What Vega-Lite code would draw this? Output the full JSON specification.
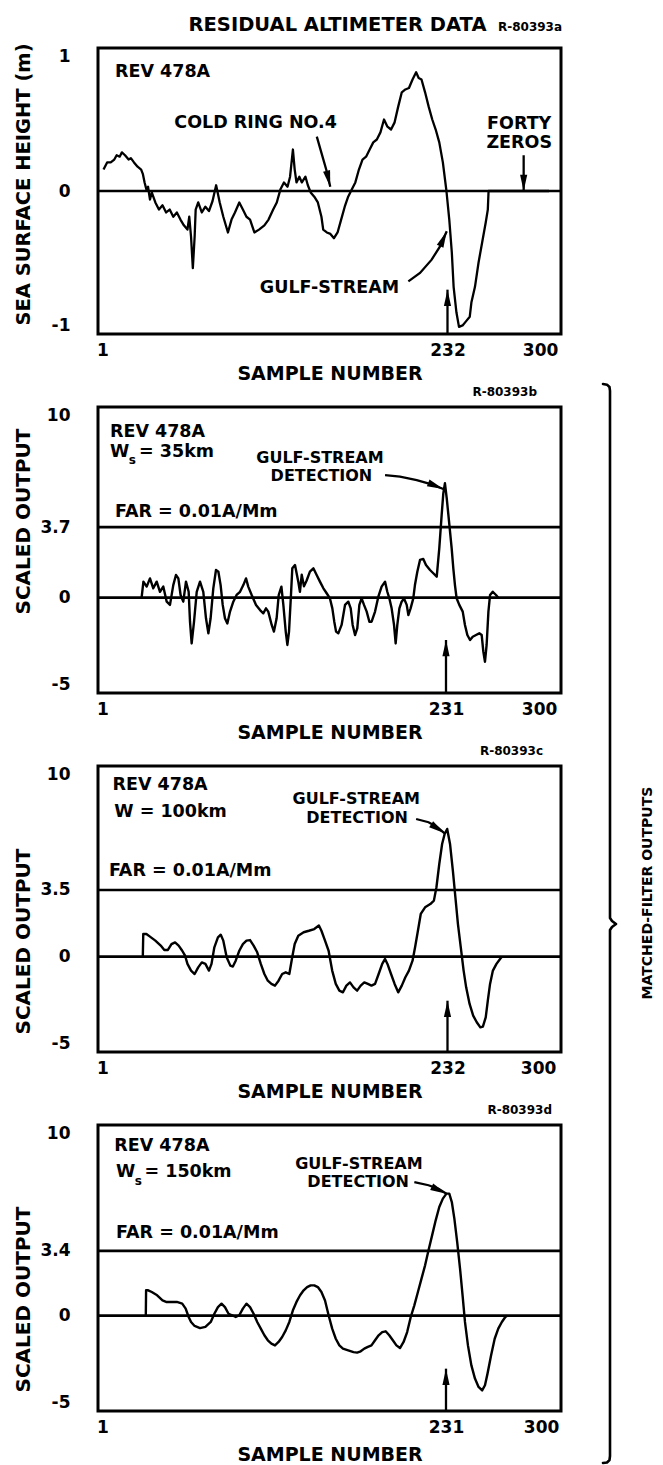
{
  "$schema": "https://vega.github.io/schema/vega-lite/v6.json",
  "background": "white",
  "padding": {"left": 11, "top": 13, "right": 0, "bottom": 0},
  "datasets": {
    "p1": [
      {"s":1.7,"v":0.15},{"s":4.1,"v":0.2},{"s":6.5,"v":0.2},{"s":8.9,"v":0.22},{"s":10.5,"v":0.25},{"s":12.5,"v":0.24},{"s":14,"v":0.27},{"s":16.1,"v":0.25},{"s":18.5,"v":0.22},{"s":20,"v":0.23},{"s":22.1,"v":0.2},{"s":24.5,"v":0.17},{"s":26.9,"v":0.15},{"s":28,"v":0.12},{"s":29.2,"v":0.06},{"s":30.4,"v":0.01},{"s":31.5,"v":0.03},{"s":32.8,"v":-0.06},{"s":34,"v":-0.01},{"s":36.4,"v":-0.08},{"s":38.8,"v":-0.13},{"s":41.2,"v":-0.1},{"s":43.6,"v":-0.15},{"s":46,"v":-0.13},{"s":48.4,"v":-0.18},{"s":50.8,"v":-0.15},{"s":53.2,"v":-0.2},{"s":55.5,"v":-0.24},{"s":57.9,"v":-0.27},{"s":59.1,"v":-0.18},{"s":60.3,"v":-0.32},{"s":61.5,"v":-0.54},{"s":62.7,"v":-0.32},{"s":63.4,"v":-0.13},{"s":65.1,"v":-0.08},{"s":67.5,"v":-0.15},{"s":69.9,"v":-0.11},{"s":72.3,"v":-0.14},{"s":74.7,"v":-0.07},{"s":77.1,"v":0.04},{"s":79.5,"v":-0.08},{"s":81.9,"v":-0.18},{"s":85,"v":-0.29},{"s":87.4,"v":-0.2},{"s":89.7,"v":-0.15},{"s":92.6,"v":-0.08},{"s":95,"v":-0.13},{"s":97.4,"v":-0.18},{"s":99.8,"v":-0.2},{"s":102.7,"v":-0.29},{"s":105.8,"v":-0.27},{"s":109.4,"v":-0.24},{"s":112.2,"v":-0.2},{"s":115.3,"v":-0.13},{"s":117.7,"v":-0.08},{"s":120.1,"v":0.01},{"s":122.5,"v":0.06},{"s":124.9,"v":0.03},{"s":126.6,"v":0.1},{"s":128.5,"v":0.29},{"s":129.7,"v":0.15},{"s":130.9,"v":0.06},{"s":132.8,"v":0.1},{"s":134.5,"v":0.06},{"s":136.9,"v":0.1},{"s":138.5,"v":0.04},{"s":140.4,"v":-0.01},{"s":142.8,"v":-0.04},{"s":145.2,"v":-0.08},{"s":147.6,"v":-0.18},{"s":148.8,"v":-0.27},{"s":151.2,"v":-0.29},{"s":153.6,"v":-0.3},{"s":156,"v":-0.33},{"s":158.4,"v":-0.29},{"s":160.8,"v":-0.2},{"s":163.2,"v":-0.11},{"s":165.5,"v":-0.04},{"s":167.9,"v":0.01},{"s":170.3,"v":0.06},{"s":172.7,"v":0.15},{"s":175.1,"v":0.22},{"s":177.5,"v":0.24},{"s":179.9,"v":0.29},{"s":182.3,"v":0.34},{"s":184.7,"v":0.36},{"s":187.1,"v":0.41},{"s":189.5,"v":0.5},{"s":191.8,"v":0.45},{"s":194.2,"v":0.43},{"s":196.6,"v":0.48},{"s":199,"v":0.59},{"s":201.4,"v":0.69},{"s":203.8,"v":0.71},{"s":206.2,"v":0.72},{"s":208.6,"v":0.78},{"s":211,"v":0.83},{"s":212.7,"v":0.79},{"s":214.6,"v":0.78},{"s":217,"v":0.69},{"s":219.4,"v":0.59},{"s":221.8,"v":0.5},{"s":224.1,"v":0.43},{"s":226.5,"v":0.34},{"s":228.9,"v":0.2},{"s":231.3,"v":0},{"s":233.2,"v":-0.2},{"s":234.9,"v":-0.43},{"s":236.1,"v":-0.67},{"s":238,"v":-0.85},{"s":239.7,"v":-0.95},{"s":242.1,"v":-0.94},{"s":244.5,"v":-0.91},{"s":246.9,"v":-0.88},{"s":248,"v":-0.78},{"s":250.4,"v":-0.67},{"s":252.8,"v":-0.5},{"s":255.2,"v":-0.36},{"s":257.6,"v":-0.22},{"s":259,"v":-0.13},{"s":259.5,"v":0},{"s":262,"v":0},{"s":300,"v":0}
    ],
    "p2": [
      {"s":27.2,"v":0},{"s":28.4,"v":0.84},{"s":30.6,"v":0.58},{"s":32.8,"v":1.01},{"s":35,"v":0.49},{"s":37.3,"v":0.84},{"s":39.5,"v":0.31},{"s":41.7,"v":0.58},{"s":44,"v":-0.21},{"s":46.2,"v":-0.38},{"s":48.4,"v":0.66},{"s":50.2,"v":1.19},{"s":51.8,"v":1.01},{"s":53.3,"v":0.14},{"s":55.1,"v":-0.21},{"s":56.9,"v":0.84},{"s":58.7,"v":0.31},{"s":59.6,"v":-1.26},{"s":60.7,"v":-2.4},{"s":62.3,"v":-1.26},{"s":64.1,"v":0.31},{"s":66.3,"v":0.84},{"s":68.5,"v":0.31},{"s":70.3,"v":-1.08},{"s":71.9,"v":-1.87},{"s":73.4,"v":-1.08},{"s":75.2,"v":0.49},{"s":77,"v":1.45},{"s":78.6,"v":1.36},{"s":80.1,"v":0.66},{"s":81.5,"v":-0.38},{"s":83,"v":-1.08},{"s":84.6,"v":-1.35},{"s":86.4,"v":-0.73},{"s":88.6,"v":-0.21},{"s":90.8,"v":0.14},{"s":93.1,"v":0.31},{"s":95.3,"v":0.66},{"s":97.1,"v":1.01},{"s":98.6,"v":0.58},{"s":100.9,"v":0.14},{"s":103.8,"v":-0.38},{"s":106.5,"v":-0.65},{"s":108.7,"v":-0.82},{"s":110.5,"v":-0.56},{"s":112,"v":-0.73},{"s":114.3,"v":-1.43},{"s":115.8,"v":-1.78},{"s":117.6,"v":-1.08},{"s":119,"v":0.14},{"s":120.8,"v":0.58},{"s":122.1,"v":-0.38},{"s":123.7,"v":-1.78},{"s":124.8,"v":-2.48},{"s":125.9,"v":-1.78},{"s":127.2,"v":0.14},{"s":128.1,"v":1.54},{"s":129.9,"v":1.71},{"s":132.1,"v":0.84},{"s":133.2,"v":0.31},{"s":134.4,"v":1.2},{"s":135.9,"v":0.6},{"s":137.7,"v":0.9},{"s":139.9,"v":1.37},{"s":142.2,"v":1.54},{"s":144.4,"v":1.19},{"s":146.6,"v":0.84},{"s":148.9,"v":0.49},{"s":151.1,"v":0.23},{"s":153.3,"v":-0.04},{"s":154.9,"v":-0.56},{"s":156.2,"v":-1.26},{"s":157.4,"v":-1.78},{"s":158.9,"v":-1.87},{"s":161.1,"v":-1.43},{"s":163.4,"v":-0.38},{"s":165.6,"v":-0.21},{"s":167.2,"v":-0.56},{"s":168.5,"v":-1.43},{"s":170.1,"v":-1.96},{"s":171.6,"v":-1.61},{"s":173,"v":-0.38},{"s":174.5,"v":-0.04},{"s":176.1,"v":-0.38},{"s":177.9,"v":-0.73},{"s":179.7,"v":-1.26},{"s":181.2,"v":-1.26},{"s":183.5,"v":-0.73},{"s":185.7,"v":0.05},{"s":187.9,"v":0.58},{"s":190.2,"v":0.84},{"s":191.7,"v":0.31},{"s":193.1,"v":-0.04},{"s":194.6,"v":-0.56},{"s":196.2,"v":-1.43},{"s":197.3,"v":-2.4},{"s":198.4,"v":-1.43},{"s":199.8,"v":-0.56},{"s":201.3,"v":-0.21},{"s":202.9,"v":-0.04},{"s":204.7,"v":-0.38},{"s":205.8,"v":-0.91},{"s":207.3,"v":-0.56},{"s":209.1,"v":-0.04},{"s":210.2,"v":0.66},{"s":211.8,"v":1.36},{"s":213.6,"v":1.98},{"s":215.8,"v":2.03},{"s":217.6,"v":1.71},{"s":220.3,"v":1.45},{"s":222.5,"v":1.28},{"s":224.8,"v":1.1},{"s":226.5,"v":2.59},{"s":228.1,"v":4.34},{"s":229.2,"v":5.47},{"s":230.3,"v":6.0},{"s":231.5,"v":5.21},{"s":232.6,"v":4.34},{"s":233.7,"v":3.46},{"s":234.8,"v":2.59},{"s":235.9,"v":1.54},{"s":237,"v":0.66},{"s":238.1,"v":-0.03},{"s":239.9,"v":-0.38},{"s":242.2,"v":-0.73},{"s":243.7,"v":-1.43},{"s":245.3,"v":-1.96},{"s":247.1,"v":-2.22},{"s":248.9,"v":-2.05},{"s":251.1,"v":-1.96},{"s":253.3,"v":-1.87},{"s":254.9,"v":-1.96},{"s":256,"v":-2.83},{"s":257.1,"v":-3.36},{"s":258.2,"v":-2.48},{"s":259.4,"v":-0.73},{"s":260.5,"v":0.14},{"s":262.3,"v":0.31},{"s":264.5,"v":0.14},{"s":266,"v":0}
    ],
    "p3": [
      {"s":28,"v":0},{"s":28.3,"v":1.19},{"s":30.4,"v":1.19},{"s":32.8,"v":1.05},{"s":36.4,"v":0.84},{"s":40,"v":0.58},{"s":42.4,"v":0.35},{"s":44.8,"v":0.35},{"s":47.2,"v":0.66},{"s":49.6,"v":0.75},{"s":52,"v":0.58},{"s":54.4,"v":0.31},{"s":56.3,"v":0.05},{"s":57.9,"v":-0.38},{"s":60.3,"v":-0.73},{"s":62.7,"v":-0.91},{"s":65.1,"v":-0.56},{"s":67.5,"v":-0.3},{"s":69.9,"v":-0.38},{"s":72.3,"v":-0.73},{"s":74,"v":-0.38},{"s":75.9,"v":0.49},{"s":78.3,"v":1.01},{"s":80.2,"v":1.15},{"s":81.9,"v":0.84},{"s":84.2,"v":-0.04},{"s":86.6,"v":-0.47},{"s":88.3,"v":-0.52},{"s":90.2,"v":-0.21},{"s":92.6,"v":0.31},{"s":95,"v":0.66},{"s":97.4,"v":0.84},{"s":99.8,"v":0.87},{"s":102.2,"v":0.58},{"s":104.6,"v":0.23},{"s":107,"v":-0.38},{"s":109.4,"v":-0.91},{"s":111.7,"v":-1.26},{"s":114.1,"v":-1.43},{"s":116.5,"v":-1.52},{"s":118.9,"v":-1.26},{"s":121.3,"v":-0.91},{"s":123.7,"v":-0.82},{"s":126.1,"v":-0.91},{"s":128,"v":-0.04},{"s":129.7,"v":0.66},{"s":132.1,"v":1.1},{"s":135.7,"v":1.28},{"s":139.2,"v":1.36},{"s":142.8,"v":1.45},{"s":145.9,"v":1.63},{"s":147.6,"v":1.36},{"s":150,"v":0.84},{"s":152.4,"v":0.31},{"s":154.8,"v":-0.73},{"s":157.2,"v":-1.43},{"s":159.6,"v":-1.78},{"s":162,"v":-1.87},{"s":164.3,"v":-1.52},{"s":166.7,"v":-1.35},{"s":169.1,"v":-1.61},{"s":171.5,"v":-1.78},{"s":173.9,"v":-1.52},{"s":176.3,"v":-1.35},{"s":178.7,"v":-1.43},{"s":181.1,"v":-1.52},{"s":183.5,"v":-1.43},{"s":185.9,"v":-0.91},{"s":188.3,"v":-0.38},{"s":190.2,"v":-0.12},{"s":191.8,"v":-0.38},{"s":194.2,"v":-0.91},{"s":196.6,"v":-1.43},{"s":199,"v":-1.87},{"s":201.4,"v":-1.52},{"s":203.8,"v":-1.08},{"s":206.2,"v":-0.73},{"s":208.6,"v":-0.21},{"s":210.3,"v":0.49},{"s":212.2,"v":1.36},{"s":214.1,"v":2.24},{"s":217,"v":2.59},{"s":220.5,"v":2.76},{"s":222.9,"v":2.94},{"s":224.6,"v":3.64},{"s":226.5,"v":4.86},{"s":228.4,"v":5.91},{"s":230.1,"v":6.43},{"s":231.8,"v":6.7},{"s":233.7,"v":5.91},{"s":235.6,"v":4.51},{"s":237.3,"v":3.11},{"s":239,"v":1.71},{"s":240.9,"v":0.49},{"s":242.8,"v":-0.73},{"s":244.5,"v":-1.61},{"s":246.8,"v":-2.48},{"s":249.2,"v":-3.09},{"s":251.6,"v":-3.44},{"s":254,"v":-3.71},{"s":255.7,"v":-3.67},{"s":257.6,"v":-3.18},{"s":259,"v":-2.31},{"s":260.5,"v":-1.43},{"s":262.4,"v":-0.73},{"s":264.8,"v":-0.38},{"s":267.2,"v":-0.12},{"s":268.4,"v":0}
    ],
    "p4": [
      {"s":30,"v":0},{"s":30.2,"v":1.33},{"s":31.6,"v":1.33},{"s":34,"v":1.24},{"s":37.6,"v":1.07},{"s":41.2,"v":0.8},{"s":43.6,"v":0.72},{"s":47.2,"v":0.72},{"s":50.8,"v":0.72},{"s":54.4,"v":0.63},{"s":56.7,"v":0.37},{"s":58.7,"v":-0.07},{"s":60.3,"v":-0.33},{"s":62.7,"v":-0.54},{"s":66.3,"v":-0.65},{"s":69.9,"v":-0.59},{"s":73.5,"v":-0.33},{"s":75.9,"v":0.1},{"s":78.3,"v":0.45},{"s":80.7,"v":0.63},{"s":83,"v":0.45},{"s":85.4,"v":0.1},{"s":87.8,"v":0.02},{"s":90.2,"v":-0.07},{"s":92.6,"v":0.02},{"s":95,"v":0.37},{"s":97.4,"v":0.63},{"s":99.8,"v":0.45},{"s":102.2,"v":0.1},{"s":104.6,"v":-0.33},{"s":107,"v":-0.68},{"s":109.4,"v":-1.03},{"s":111.7,"v":-1.29},{"s":114.1,"v":-1.47},{"s":116.5,"v":-1.56},{"s":118.9,"v":-1.38},{"s":121.3,"v":-1.12},{"s":123.7,"v":-0.77},{"s":126.1,"v":-0.33},{"s":128.5,"v":0.28},{"s":130.9,"v":0.72},{"s":133.3,"v":1.07},{"s":135.7,"v":1.33},{"s":138,"v":1.5},{"s":140.4,"v":1.59},{"s":142.8,"v":1.59},{"s":145.2,"v":1.5},{"s":147.6,"v":1.24},{"s":150,"v":0.8},{"s":152.4,"v":0.02},{"s":154.8,"v":-0.68},{"s":157.2,"v":-1.21},{"s":159.6,"v":-1.56},{"s":162,"v":-1.73},{"s":165.5,"v":-1.82},{"s":169.1,"v":-1.91},{"s":171.5,"v":-1.94},{"s":173.9,"v":-1.87},{"s":176.3,"v":-1.73},{"s":178.7,"v":-1.64},{"s":181.1,"v":-1.56},{"s":183.5,"v":-1.29},{"s":185.9,"v":-1.03},{"s":188.3,"v":-0.86},{"s":190.6,"v":-0.82},{"s":193,"v":-1.03},{"s":195.4,"v":-1.29},{"s":197.8,"v":-1.56},{"s":200.2,"v":-1.7},{"s":202.6,"v":-1.38},{"s":205,"v":-0.86},{"s":207.4,"v":-0.07},{"s":209.8,"v":0.54},{"s":212.2,"v":1.24},{"s":214.6,"v":1.94},{"s":217,"v":2.64},{"s":219.3,"v":3.43},{"s":221.7,"v":4.21},{"s":224.1,"v":5.0},{"s":226.5,"v":5.7},{"s":228.9,"v":6.14},{"s":231.3,"v":6.4},{"s":233.2,"v":6.4},{"s":234.9,"v":5.96},{"s":236.6,"v":5.09},{"s":238.5,"v":3.86},{"s":240.4,"v":2.47},{"s":242.1,"v":1.07},{"s":243.7,"v":-0.33},{"s":245.7,"v":-1.56},{"s":248,"v":-2.61},{"s":250.4,"v":-3.3},{"s":252.8,"v":-3.74},{"s":255.2,"v":-3.92},{"s":257.1,"v":-3.65},{"s":258.8,"v":-3.04},{"s":261.2,"v":-2.08},{"s":263.6,"v":-1.21},{"s":266,"v":-0.68},{"s":268.4,"v":-0.33},{"s":270.7,"v":-0.07},{"s":271.9,"v":0}
    ],
    "brace": [
      {"k":0,"bx":0.275,"by":0.2465},{"k":1,"bx":0.325,"by":0.247},{"k":2,"bx":0.356,"by":0.2487},{"k":3,"bx":0.3625,"by":0.2516},
      {"k":4,"bx":0.3625,"by":0.6383},{"k":5,"bx":0.3875,"by":0.6405},{"k":6,"bx":0.4375,"by":0.6427},{"k":7,"bx":0.3875,"by":0.6449},{"k":8,"bx":0.3625,"by":0.6471},
      {"k":9,"bx":0.3625,"by":1.033},{"k":10,"bx":0.356,"by":1.036},{"k":11,"bx":0.325,"by":1.0378},{"k":12,"bx":0.275,"by":1.0381}
    ]
  },
  "hconcat": [
    {
      "vconcat": [
        {
          "width": 463, "height": 286,
          "title": {"text": "RESIDUAL ALTIMETER DATA", "fontSize": 19.5, "anchor": "middle", "dx": 8, "offset": -29.5, "baseline": "alphabetic"},
          "layer": [
            {"data": {"values": [{"v": 0}]}, "mark": {"type": "rule", "strokeWidth": 2.6},
             "encoding": {"y": {"field": "v", "type": "quantitative", "scale": {"domain": [-1, 1], "nice": false, "zero": false}}}},
            {"data": {"name": "p1"}, "mark": {"type": "line", "strokeWidth": 2.3, "strokeJoin": "round"},
             "encoding": {
               "x": {"field": "s", "type": "quantitative", "scale": {"domain": [-2, 308], "nice": false, "zero": false},
                     "axis": {"values": [1, 232, 300], "title": "SAMPLE NUMBER", "labelOffset": {"condition": {"test": "datum.value === 300", "value": -9}, "value": 0}}},
               "y": {"field": "v", "type": "quantitative", "scale": {"domain": [-1, 1], "nice": false, "zero": false},
                     "axis": {"values": [-1, 0, 1], "title": "SEA SURFACE HEIGHT (m)", "titleFontSize": 19.5, "titleY": 136}}}},
            {"data": {"values": [{"label": "REV 478A", "s": 9.4, "v": 0.83}]},
             "mark": {"type": "text", "align": "left", "baseline": "middle", "fontSize": 17.5},
             "encoding": {"x": {"field": "s", "type": "quantitative", "scale": {"domain": [-2, 308], "nice": false, "zero": false}},
                          "y": {"field": "v", "type": "quantitative", "scale": {"domain": [-1, 1], "nice": false, "zero": false}},
                          "text": {"field": "label"}}},
            {"data": {"values": [{"label": "COLD RING NO.4", "s": 103.5, "v": 0.476}, {"label": "FORTY", "s": 280, "v": 0.472}, {"label": "ZEROS", "s": 280, "v": 0.339}, {"label": "GULF-STREAM", "s": 153, "v": -0.675}]},
             "mark": {"type": "text", "align": "center", "baseline": "middle", "fontSize": 17.5},
             "encoding": {"x": {"field": "s", "type": "quantitative", "scale": {"domain": [-2, 308], "nice": false, "zero": false}},
                          "y": {"field": "v", "type": "quantitative", "scale": {"domain": [-1, 1], "nice": false, "zero": false}},
                          "text": {"field": "label"}}},
            {"data": {"values": [{"label": "R-80393a", "s": 265.8, "v": 1.147}]},
             "mark": {"type": "text", "align": "left", "baseline": "middle", "fontSize": 12},
             "encoding": {"x": {"field": "s", "type": "quantitative", "scale": {"domain": [-2, 308], "nice": false, "zero": false}},
                          "y": {"field": "v", "type": "quantitative", "scale": {"domain": [-1, 1], "nice": false, "zero": false}},
                          "text": {"field": "label"}}},
            {"data": {"values": [
                {"id": "ring", "k": 0, "s": 144.5, "v": 0.38}, {"id": "ring", "k": 1, "s": 147.8, "v": 0.26}, {"id": "ring", "k": 2, "s": 150.8, "v": 0.15}, {"id": "ring", "k": 3, "s": 153.5, "v": 0.03},
                {"id": "zeros", "k": 0, "s": 283, "v": 0.25}, {"id": "zeros", "k": 1, "s": 283, "v": 0.0},
                {"id": "gulf", "k": 0, "s": 205.8, "v": -0.632}, {"id": "gulf", "k": 1, "s": 213.6, "v": -0.573}, {"id": "gulf", "k": 2, "s": 221.4, "v": -0.48}, {"id": "gulf", "k": 3, "s": 227, "v": -0.387}, {"id": "gulf", "k": 4, "s": 231.5, "v": -0.282},
                {"id": "mark", "k": 0, "s": 232, "v": -1}, {"id": "mark", "k": 1, "s": 232, "v": -0.69}]},
             "mark": {"type": "line", "strokeWidth": 2.3},
             "encoding": {"x": {"field": "s", "type": "quantitative", "scale": {"domain": [-2, 308], "nice": false, "zero": false}},
                          "y": {"field": "v", "type": "quantitative", "scale": {"domain": [-1, 1], "nice": false, "zero": false}},
                          "detail": {"field": "id"}, "order": {"field": "k", "type": "quantitative"}}},
            {"data": {"values": [{"s": 153.5, "v": 0.03}]},
             "mark": {"type": "point", "shape": "M0,0L0.55,2.5L-0.55,2.5Z", "filled": true, "size": 170, "angle": 167, "opacity": 1, "color": "black"},
             "encoding": {"x": {"field": "s", "type": "quantitative", "scale": {"domain": [-2, 308], "nice": false, "zero": false}},
                          "y": {"field": "v", "type": "quantitative", "scale": {"domain": [-1, 1], "nice": false, "zero": false}}}},
            {"data": {"values": [{"s": 283, "v": 0.0}]},
             "mark": {"type": "point", "shape": "M0,0L0.55,2.5L-0.55,2.5Z", "filled": true, "size": 170, "angle": 180, "opacity": 1, "color": "black"},
             "encoding": {"x": {"field": "s", "type": "quantitative", "scale": {"domain": [-2, 308], "nice": false, "zero": false}},
                          "y": {"field": "v", "type": "quantitative", "scale": {"domain": [-1, 1], "nice": false, "zero": false}}}},
            {"data": {"values": [{"s": 231.5, "v": -0.282}]},
             "mark": {"type": "point", "shape": "M0,0L0.55,2.5L-0.55,2.5Z", "filled": true, "size": 170, "angle": 24, "opacity": 1, "color": "black"},
             "encoding": {"x": {"field": "s", "type": "quantitative", "scale": {"domain": [-2, 308], "nice": false, "zero": false}},
                          "y": {"field": "v", "type": "quantitative", "scale": {"domain": [-1, 1], "nice": false, "zero": false}}}},
            {"data": {"values": [{"s": 232, "v": -0.69}]},
             "mark": {"type": "point", "shape": "M0,0L0.55,2.5L-0.55,2.5Z", "filled": true, "size": 170, "angle": 0, "opacity": 1, "color": "black"},
             "encoding": {"x": {"field": "s", "type": "quantitative", "scale": {"domain": [-2, 308], "nice": false, "zero": false}},
                          "y": {"field": "v", "type": "quantitative", "scale": {"domain": [-1, 1], "nice": false, "zero": false}}}}
          ]
        },
        {
          "width": 463, "height": 286,
          "title": {"text": "R-80393b", "fontSize": 12, "anchor": "end", "dx": -24, "offset": -1.5, "baseline": "alphabetic"},
          "layer": [
            {"data": {"values": [{"v": 0}, {"v": 3.7}]}, "mark": {"type": "rule", "strokeWidth": 2.6},
             "encoding": {"y": {"field": "v", "type": "quantitative", "scale": {"domain": [-5, 10], "nice": false, "zero": false}}}},
            {"data": {"name": "p2"}, "mark": {"type": "line", "strokeWidth": 2.4, "strokeJoin": "round"},
             "encoding": {
               "x": {"field": "s", "type": "quantitative", "scale": {"domain": [-2, 308], "nice": false, "zero": false},
                     "axis": {"values": [1, 231, 300], "title": "SAMPLE NUMBER", "labelOffset": {"condition": {"test": "datum.value === 300", "value": -10}, "value": 0}}},
               "y": {"field": "v", "type": "quantitative", "scale": {"domain": [-5, 10], "nice": false, "zero": false},
                     "axis": {"values": [-5, 0, 3.7, 10], "title": "SCALED OUTPUT", "titleY": 114}}}},
            {"data": {"values": [{"label": "REV 478A", "s": 6, "v": 8.7}, {"label": "W", "s": 6, "v": 7.66}, {"label": "= 35km", "s": 25.5, "v": 7.66}, {"label": "FAR = 0.01A/Mm", "s": 9.4, "v": 4.47}]},
             "mark": {"type": "text", "align": "left", "baseline": "middle", "fontSize": 17.5},
             "encoding": {"x": {"field": "s", "type": "quantitative", "scale": {"domain": [-2, 308], "nice": false, "zero": false}},
                          "y": {"field": "v", "type": "quantitative", "scale": {"domain": [-5, 10], "nice": false, "zero": false}},
                          "text": {"field": "label"}}},
            {"data": {"values": [{"label": "s", "s": 18.6, "v": 7.2}]},
             "mark": {"type": "text", "align": "left", "baseline": "middle", "fontSize": 12},
             "encoding": {"x": {"field": "s", "type": "quantitative", "scale": {"domain": [-2, 308], "nice": false, "zero": false}},
                          "y": {"field": "v", "type": "quantitative", "scale": {"domain": [-5, 10], "nice": false, "zero": false}},
                          "text": {"field": "label"}}},
            {"data": {"values": [{"label": "GULF-STREAM", "s": 146.6, "v": 7.35}, {"label": "DETECTION", "s": 147.6, "v": 6.36}]},
             "mark": {"type": "text", "align": "center", "baseline": "middle", "fontSize": 16},
             "encoding": {"x": {"field": "s", "type": "quantitative", "scale": {"domain": [-2, 308], "nice": false, "zero": false}},
                          "y": {"field": "v", "type": "quantitative", "scale": {"domain": [-5, 10], "nice": false, "zero": false}},
                          "text": {"field": "label"}}},
            {"data": {"values": [
                {"id": "det", "k": 0, "s": 190.2, "v": 6.43}, {"id": "det", "k": 1, "s": 200.2, "v": 6.35}, {"id": "det", "k": 2, "s": 211.4, "v": 6.17}, {"id": "det", "k": 3, "s": 221.4, "v": 5.94}, {"id": "det", "k": 4, "s": 229.2, "v": 5.7},
                {"id": "mark", "k": 0, "s": 231, "v": -5}, {"id": "mark", "k": 1, "s": 231, "v": -2.22}]},
             "mark": {"type": "line", "strokeWidth": 2.3},
             "encoding": {"x": {"field": "s", "type": "quantitative", "scale": {"domain": [-2, 308], "nice": false, "zero": false}},
                          "y": {"field": "v", "type": "quantitative", "scale": {"domain": [-5, 10], "nice": false, "zero": false}},
                          "detail": {"field": "id"}, "order": {"field": "k", "type": "quantitative"}}},
            {"data": {"values": [{"s": 229.2, "v": 5.7}]},
             "mark": {"type": "point", "shape": "M0,0L0.55,2.5L-0.55,2.5Z", "filled": true, "size": 170, "angle": 112, "opacity": 1, "color": "black"},
             "encoding": {"x": {"field": "s", "type": "quantitative", "scale": {"domain": [-2, 308], "nice": false, "zero": false}},
                          "y": {"field": "v", "type": "quantitative", "scale": {"domain": [-5, 10], "nice": false, "zero": false}}}},
            {"data": {"values": [{"s": 231, "v": -2.22}]},
             "mark": {"type": "point", "shape": "M0,0L0.55,2.5L-0.55,2.5Z", "filled": true, "size": 170, "angle": 0, "opacity": 1, "color": "black"},
             "encoding": {"x": {"field": "s", "type": "quantitative", "scale": {"domain": [-2, 308], "nice": false, "zero": false}},
                          "y": {"field": "v", "type": "quantitative", "scale": {"domain": [-5, 10], "nice": false, "zero": false}}}}
          ]
        },
        {
          "width": 463, "height": 286,
          "title": {"text": "R-80393c", "fontSize": 12, "anchor": "end", "dx": -18, "offset": -1.5, "baseline": "alphabetic"},
          "layer": [
            {"data": {"values": [{"v": 0}, {"v": 3.5}]}, "mark": {"type": "rule", "strokeWidth": 2.6},
             "encoding": {"y": {"field": "v", "type": "quantitative", "scale": {"domain": [-5, 10], "nice": false, "zero": false}}}},
            {"data": {"name": "p3"}, "mark": {"type": "line", "strokeWidth": 2.4, "strokeJoin": "round"},
             "encoding": {
               "x": {"field": "s", "type": "quantitative", "scale": {"domain": [-2, 308], "nice": false, "zero": false},
                     "axis": {"values": [1, 232, 300], "title": "SAMPLE NUMBER", "labelOffset": {"condition": {"test": "datum.value === 300", "value": -11}, "value": 0}}},
               "y": {"field": "v", "type": "quantitative", "scale": {"domain": [-5, 10], "nice": false, "zero": false},
                     "axis": {"values": [-5, 0, 3.5, 10], "title": "SCALED OUTPUT", "titleY": 175}}}},
            {"data": {"values": [{"label": "REV 478A", "s": 7.7, "v": 8.98}, {"label": "W = 100km", "s": 8.9, "v": 7.61}, {"label": "FAR = 0.01A/Mm", "s": 5.3, "v": 4.47}]},
             "mark": {"type": "text", "align": "left", "baseline": "middle", "fontSize": 17.5},
             "encoding": {"x": {"field": "s", "type": "quantitative", "scale": {"domain": [-2, 308], "nice": false, "zero": false}},
                          "y": {"field": "v", "type": "quantitative", "scale": {"domain": [-5, 10], "nice": false, "zero": false}},
                          "text": {"field": "label"}}},
            {"data": {"values": [{"label": "GULF-STREAM", "s": 170.9, "v": 8.25}, {"label": "DETECTION", "s": 171.5, "v": 7.25}]},
             "mark": {"type": "text", "align": "center", "baseline": "middle", "fontSize": 16},
             "encoding": {"x": {"field": "s", "type": "quantitative", "scale": {"domain": [-2, 308], "nice": false, "zero": false}},
                          "y": {"field": "v", "type": "quantitative", "scale": {"domain": [-5, 10], "nice": false, "zero": false}},
                          "text": {"field": "label"}}},
            {"data": {"values": [
                {"id": "det", "k": 0, "s": 211, "v": 7.22}, {"id": "det", "k": 1, "s": 219.3, "v": 7.05}, {"id": "det", "k": 2, "s": 225, "v": 6.8}, {"id": "det", "k": 3, "s": 230.1, "v": 6.47},
                {"id": "mark", "k": 0, "s": 232, "v": -5}, {"id": "mark", "k": 1, "s": 232, "v": -2.31}]},
             "mark": {"type": "line", "strokeWidth": 2.3},
             "encoding": {"x": {"field": "s", "type": "quantitative", "scale": {"domain": [-2, 308], "nice": false, "zero": false}},
                          "y": {"field": "v", "type": "quantitative", "scale": {"domain": [-5, 10], "nice": false, "zero": false}},
                          "detail": {"field": "id"}, "order": {"field": "k", "type": "quantitative"}}},
            {"data": {"values": [{"s": 230.1, "v": 6.47}]},
             "mark": {"type": "point", "shape": "M0,0L0.55,2.5L-0.55,2.5Z", "filled": true, "size": 170, "angle": 124, "opacity": 1, "color": "black"},
             "encoding": {"x": {"field": "s", "type": "quantitative", "scale": {"domain": [-2, 308], "nice": false, "zero": false}},
                          "y": {"field": "v", "type": "quantitative", "scale": {"domain": [-5, 10], "nice": false, "zero": false}}}},
            {"data": {"values": [{"s": 232, "v": -2.31}]},
             "mark": {"type": "point", "shape": "M0,0L0.55,2.5L-0.55,2.5Z", "filled": true, "size": 170, "angle": 0, "opacity": 1, "color": "black"},
             "encoding": {"x": {"field": "s", "type": "quantitative", "scale": {"domain": [-2, 308], "nice": false, "zero": false}},
                          "y": {"field": "v", "type": "quantitative", "scale": {"domain": [-5, 10], "nice": false, "zero": false}}}}
          ]
        },
        {
          "width": 463, "height": 286,
          "title": {"text": "R-80393d", "fontSize": 12, "anchor": "end", "dx": -9, "offset": -1.5, "baseline": "alphabetic"},
          "layer": [
            {"data": {"values": [{"v": 0}, {"v": 3.4}]}, "mark": {"type": "rule", "strokeWidth": 2.6},
             "encoding": {"y": {"field": "v", "type": "quantitative", "scale": {"domain": [-5, 10], "nice": false, "zero": false}}}},
            {"data": {"name": "p4"}, "mark": {"type": "line", "strokeWidth": 2.4, "strokeJoin": "round"},
             "encoding": {
               "x": {"field": "s", "type": "quantitative", "scale": {"domain": [-2, 308], "nice": false, "zero": false},
                     "axis": {"values": [1, 231, 300], "title": "SAMPLE NUMBER", "titlePadding": 10, "labelOffset": {"condition": {"test": "datum.value === 300", "value": -8}, "value": 0}}},
               "y": {"field": "v", "type": "quantitative", "scale": {"domain": [-5, 10], "nice": false, "zero": false},
                     "axis": {"values": [-5, 0, 3.4, 10], "title": "SCALED OUTPUT", "titleY": 174}}}},
            {"data": {"values": [{"label": "REV 478A", "s": 8.9, "v": 8.92}, {"label": "W", "s": 10.1, "v": 7.56}, {"label": "= 150km", "s": 29.1, "v": 7.56}, {"label": "FAR = 0.01A/Mm", "s": 10.1, "v": 4.31}]},
             "mark": {"type": "text", "align": "left", "baseline": "middle", "fontSize": 17.5},
             "encoding": {"x": {"field": "s", "type": "quantitative", "scale": {"domain": [-2, 308], "nice": false, "zero": false}},
                          "y": {"field": "v", "type": "quantitative", "scale": {"domain": [-5, 10], "nice": false, "zero": false}},
                          "text": {"field": "label"}}},
            {"data": {"values": [{"label": "s", "s": 22.6, "v": 7.06}]},
             "mark": {"type": "text", "align": "left", "baseline": "middle", "fontSize": 12},
             "encoding": {"x": {"field": "s", "type": "quantitative", "scale": {"domain": [-2, 308], "nice": false, "zero": false}},
                          "y": {"field": "v", "type": "quantitative", "scale": {"domain": [-5, 10], "nice": false, "zero": false}},
                          "text": {"field": "label"}}},
            {"data": {"values": [{"label": "GULF-STREAM", "s": 172.7, "v": 7.95}, {"label": "DETECTION", "s": 172.2, "v": 7.0}]},
             "mark": {"type": "text", "align": "center", "baseline": "middle", "fontSize": 16},
             "encoding": {"x": {"field": "s", "type": "quantitative", "scale": {"domain": [-2, 308], "nice": false, "zero": false}},
                          "y": {"field": "v", "type": "quantitative", "scale": {"domain": [-5, 10], "nice": false, "zero": false}},
                          "text": {"field": "label"}}},
            {"data": {"values": [
                {"id": "det", "k": 0, "s": 209.8, "v": 7.01}, {"id": "det", "k": 1, "s": 219.3, "v": 6.84}, {"id": "det", "k": 2, "s": 226, "v": 6.65}, {"id": "det", "k": 3, "s": 231.3, "v": 6.4},
                {"id": "mark", "k": 0, "s": 231, "v": -5}, {"id": "mark", "k": 1, "s": 231, "v": -2.78}]},
             "mark": {"type": "line", "strokeWidth": 2.3},
             "encoding": {"x": {"field": "s", "type": "quantitative", "scale": {"domain": [-2, 308], "nice": false, "zero": false}},
                          "y": {"field": "v", "type": "quantitative", "scale": {"domain": [-5, 10], "nice": false, "zero": false}},
                          "detail": {"field": "id"}, "order": {"field": "k", "type": "quantitative"}}},
            {"data": {"values": [{"s": 231.3, "v": 6.4}]},
             "mark": {"type": "point", "shape": "M0,0L0.55,2.5L-0.55,2.5Z", "filled": true, "size": 170, "angle": 115, "opacity": 1, "color": "black"},
             "encoding": {"x": {"field": "s", "type": "quantitative", "scale": {"domain": [-2, 308], "nice": false, "zero": false}},
                          "y": {"field": "v", "type": "quantitative", "scale": {"domain": [-5, 10], "nice": false, "zero": false}}}},
            {"data": {"values": [{"s": 231, "v": -2.78}]},
             "mark": {"type": "point", "shape": "M0,0L0.55,2.5L-0.55,2.5Z", "filled": true, "size": 170, "angle": 0, "opacity": 1, "color": "black"},
             "encoding": {"x": {"field": "s", "type": "quantitative", "scale": {"domain": [-2, 308], "nice": false, "zero": false}},
                          "y": {"field": "v", "type": "quantitative", "scale": {"domain": [-5, 10], "nice": false, "zero": false}}}}
          ]
        }
      ],
      "spacing": 73,
      "bounds": "flush"
    },
    {
      "width": 80, "height": 1363,
      "view": {"stroke": null},
      "layer": [
        {"data": {"name": "brace"}, "mark": {"type": "line", "strokeWidth": 2.6, "strokeCap": "round", "strokeJoin": "round"},
         "encoding": {"x": {"field": "bx", "type": "quantitative", "scale": {"domain": [0, 1], "nice": false, "zero": false}, "axis": null},
                      "y": {"field": "by", "type": "quantitative", "scale": {"domain": [0, 1], "nice": false, "zero": false, "reverse": true}, "axis": null},
                      "order": {"field": "k", "type": "quantitative"}}},
        {"data": {"values": [{"label": "MATCHED-FILTER OUTPUTS", "bx": 0.8375, "by": 0.62}]},
         "mark": {"type": "text", "angle": 270, "align": "center", "baseline": "middle", "fontSize": 14},
         "encoding": {"x": {"field": "bx", "type": "quantitative", "scale": {"domain": [0, 1], "nice": false, "zero": false}, "axis": null},
                      "y": {"field": "by", "type": "quantitative", "scale": {"domain": [0, 1], "nice": false, "zero": false, "reverse": true}, "axis": null},
                      "text": {"field": "label"}}}
      ]
    }
  ],
  "spacing": 483,
  "bounds": "flush",
  "config": {
    "font": "DejaVu Sans",
    "view": {"stroke": "black", "strokeWidth": 3},
    "axis": {"labelFont": "DejaVu Sans", "titleFont": "DejaVu Sans", "labelFontWeight": "bold", "titleFontWeight": "bold", "labelColor": "black", "titleColor": "black", "ticks": false, "domain": false, "grid": false},
    "axisX": {"labelFontSize": 17, "labelPadding": 8, "titleFontSize": 19, "titlePadding": 6},
    "axisY": {"labelFontSize": 17, "labelPadding": 28, "labelFlush": true, "titleFontSize": 20, "titleAngle": -90, "titleAlign": "center", "titleBaseline": "middle", "titleX": -75, "labelExpr": "replace(format(datum.value, '~g'), '\u2212', '-')"},
    "title": {"font": "DejaVu Sans", "fontWeight": "bold", "color": "black", "frame": "group"},
    "text": {"font": "DejaVu Sans", "fontWeight": "bold", "color": "black"},
    "line": {"color": "black"},
    "rule": {"color": "black"},
    "point": {"color": "black"}
  }
}
